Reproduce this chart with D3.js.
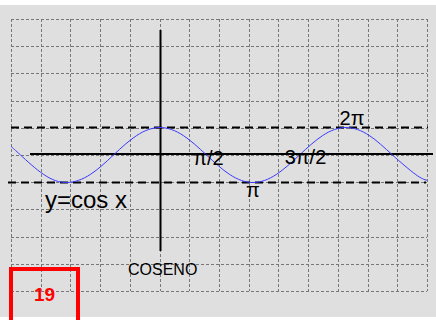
<!DOCTYPE html>
<html lang="es">
<head>
<meta charset="UTF-8">
<title>Coseno</title>
<script src="https://d3js.org/d3.v7.min.js"></script>
<style>
  body { margin: 0; background: #fff; }
  svg text { font-family: "Liberation Sans", Arial, sans-serif; }
</style>
</head>
<body>
<div id="chart"></div>
<script>
// sampled points of the curve (radians, value)
var angles = [-5.03, -4.712, -3.927, -3.1416, -2.356, -1.571, -0.785, 0, 0.785, 1.571,
              2.356, 3.1416, 3.927, 4.712, 5.498, 6.283, 7.069, 7.854, 8.639, 9.02];
var values = [0.31, 0, -0.71, -1, -0.71, 0, 0.71, 1, 0.71, 0,
              -0.71, -1, -0.71, 0, 0.71, 1, 0.71, 0, -0.71, -0.92];

// axis labels
var tickLabels = ["\u03c0/2", "\u03c0", "3\u03c0/2", "2\u03c0"];
var tickValues = [Math.PI / 2, Math.PI, 3 * Math.PI / 2, 2 * Math.PI];

var gridCols = 14, gridRows = 10;

var width = 436, height = 320;

var svg = d3.select("#chart").append("svg")
    .attr("width", width)
    .attr("height", height);

// gray panel
svg.append("rect")
    .attr("x", 0).attr("y", 5)
    .attr("width", width).attr("height", 312)
    .attr("fill", "#dfdfdf");

// grid scales
var gx = d3.scaleLinear().domain([0, gridCols]).range([11, 427]);
var gy = d3.scaleLinear().domain([0, gridRows]).range([19, 291]);

// data scales
var x = d3.scaleLinear().domain([0, 2 * Math.PI]).range([160, 346]);
var y = d3.scaleLinear().domain([-1, 1]).range([182.5, 127.5]);

var grid = svg.append("g")
    .attr("stroke", "#777")
    .attr("stroke-width", 1)
    .attr("stroke-dasharray", "3,2");

grid.selectAll("line.v")
  .data(d3.range(gridCols + 1))
  .enter().append("line")
    .attr("class", "v")
    .attr("x1", function(d) { return Math.round(gx(d)) + 0.5; })
    .attr("x2", function(d) { return Math.round(gx(d)) + 0.5; })
    .attr("y1", gy(0))
    .attr("y2", gy(gridRows));

grid.selectAll("line.h")
  .data(d3.range(gridRows + 1))
  .enter().append("line")
    .attr("class", "h")
    .attr("y1", function(d) { return Math.round(gy(d)) + 0.5; })
    .attr("y2", function(d) { return Math.round(gy(d)) + 0.5; })
    .attr("x1", gx(0))
    .attr("x2", gx(gridCols));

// dashed lines at 1 and -1
svg.append("line")
    .attr("x1", 11).attr("x2", 428)
    .attr("y1", y(1)).attr("y2", y(1))
    .attr("stroke", "#000").attr("stroke-width", 2)
    .attr("stroke-dasharray", "8,5");
svg.append("line")
    .attr("x1", 8).attr("x2", 426)
    .attr("y1", y(-1)).attr("y2", y(-1))
    .attr("stroke", "#000").attr("stroke-width", 2)
    .attr("stroke-dasharray", "8,5");

// axes
svg.append("line")
    .attr("x1", 30).attr("x2", 433)
    .attr("y1", y(0) - 1).attr("y2", y(0) - 1)
    .attr("stroke", "#000").attr("stroke-width", 2);
svg.append("line")
    .attr("x1", x(0) + 0.5).attr("x2", x(0) + 0.5)
    .attr("y1", 30).attr("y2", 251)
    .attr("stroke", "#000").attr("stroke-width", 2);

// the curve
var pts = angles.map(function(a, i) { return [a, values[i]]; });
var line = d3.line()
    .x(function(d) { return x(d[0]); })
    .y(function(d) { return y(d[1]); })
    .curve(d3.curveNatural);

svg.append("path")
    .datum(pts)
    .attr("d", line)
    .attr("fill", "none")
    .attr("stroke", "#3a3aff")
    .attr("stroke-width", 1);

// tick labels
var labelDy = [10, 42, 9, -30];
var labelDx = [2, 0, 6, 6];
svg.selectAll("text.tick")
  .data(tickLabels)
  .enter().append("text")
    .attr("class", "tick")
    .attr("x", function(d, i) { return x(tickValues[i]) + labelDx[i]; })
    .attr("y", function(d, i) { return y(0) + labelDy[i]; })
    .attr("text-anchor", "middle")
    .attr("font-size", 20)
    .attr("fill", "#000")
    .text(function(d) { return d; });

svg.append("text")
    .attr("x", 45).attr("y", 208)
    .attr("font-size", 24)
    .attr("fill", "#000")
    .text("y=cos x");

svg.append("text")
    .attr("x", 128).attr("y", 275)
    .attr("font-size", 16)
    .attr("fill", "#000")
    .text("COSENO");

// red page-number box
svg.append("rect")
    .attr("x", 11).attr("y", 269)
    .attr("width", 67).attr("height", 70)
    .attr("fill", "none")
    .attr("stroke", "#ff0000")
    .attr("stroke-width", 4);

svg.append("text")
    .attr("x", 44.5).attr("y", 301)
    .attr("text-anchor", "middle")
    .attr("font-size", 19)
    .attr("font-weight", "bold")
    .attr("fill", "#ff0000")
    .text("19");
</script>
</body>
</html>
